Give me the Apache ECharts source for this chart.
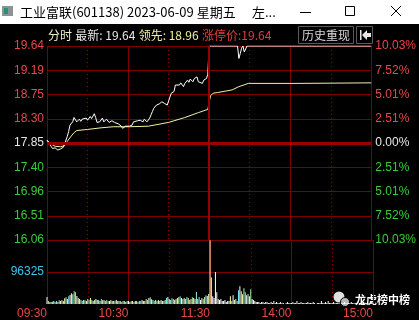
<!DOCTYPE html>
<html><head><meta charset="utf-8">
<script src="https://cdn.jsdelivr.net/npm/echarts@6/dist/echarts.min.js"></script>
<style>html,body{margin:0;padding:0;background:#000;}#c{width:419px;height:320px;}</style>
</head><body><div id="c"></div><script>
// ---------------- data ----------------
const stockTitle = '工业富联(601138) 2023-06-09 星期五';
const prevClose = 17.85;
const limitUp = 19.64;
// tick labels, bottom -> top
const priceTicks = ['16.06','16.51','16.96','17.40','17.85','18.30','18.75','19.19','19.64'];
const pctTicks = ['10.03%','7.52%','5.01%','2.51%','0.00%','2.51%','5.01%','7.52%','10.03%'];
const timeLabels = ['09:30','10:30','11:30','14:00','15:00'];
const volTicks = ['', '96325', ''];
const volMax = 192650;

// minute index (0 = 09:30, 120 = 11:30/13:00, 240 = 15:00)
const priceMinutes = [0,3,4,6,8,10,12,13,15,16,17,19,20,22,24,25,26,27,29,30,31,32,33,35,36,37,39,41,42,44,46,48,50,51,53,55,56,58,59,61,63,64,65,67,68,69,71,72,74,76,77,78,79,80,81,83,85,87,89,90,91,92,94,95,96,98,99,101,102,104,105,106,108,109,111,112,113,115,116,118,119,120,141,142,143,144,145,146,148,240];
const prices = [17.90,17.79,17.75,17.76,17.72,17.74,17.77,17.83,17.97,18.06,18.18,18.24,18.32,18.24,18.29,18.25,18.29,18.26,18.31,18.27,18.28,18.34,18.30,18.39,18.32,18.23,18.24,18.31,18.24,18.29,18.23,18.26,18.23,18.24,18.20,18.16,18.12,18.16,18.14,18.16,18.18,18.24,18.22,18.26,18.23,18.27,18.24,18.29,18.24,18.31,18.37,18.43,18.49,18.47,18.55,18.57,18.61,18.58,18.55,18.58,18.70,18.77,18.80,18.92,18.95,18.92,18.96,18.89,18.95,19.01,18.97,19.03,18.98,19.04,19.07,18.98,19.00,18.95,19.01,19.04,19.12,19.64,19.64,19.41,19.50,19.60,19.64,19.53,19.64,19.64];
const avgMinutes = [0,3,6,10,13,15,18,20,22,30,40,49,61,75,90,102,112,119,120,121,123,126,137,142,149,185,186,240];
const avgPrices = [17.90,17.83,17.79,17.78,17.80,17.88,17.98,18.04,18.08,18.10,18.13,18.15,18.15,18.16,18.23,18.32,18.41,18.47,18.60,18.72,18.77,18.78,18.83,18.89,18.95,18.95,18.96,18.96];
// per-minute volume, 241 values
const volumes = [
20700,8900,6200,5800,6500,9200,6000,8700,6300,11500,
8800,12100,9000,17500,20600,14800,23700,26800,32600,29500,
38500,35600,23800,17800,14900,11800,9100,12200,11600,8900,
14800,12000,17900,11900,9200,12100,14700,11800,12300,8800,
14900,11600,12400,9100,11900,8700,9400,12000,8800,9300,
8700,12100,9000,8800,9300,6100,8900,9400,6300,8800,
9100,6000,8900,9200,5900,8800,9400,6100,9000,8700,
12000,8900,9300,14800,11900,17800,20500,14600,12000,8900,
11800,9100,12200,8800,11700,9200,8900,12300,17700,20900,
14900,11800,17600,15000,12100,14700,17900,20800,23600,17700,
14800,17900,15100,20700,17800,12000,14900,20600,17700,14800,
36200,14900,20800,11900,17800,14800,20700,26600,23900,29800,
192000,
80000,23700,17800,96325,35500,14800,11900,14700,8900,9100,
11800,5900,8800,9200,23600,8900,26700,11900,14800,8800,
41500,53400,38500,29600,47400,35600,26700,29800,23700,44500,
14800,11900,8900,5900,6100,5800,3000,6000,5900,3100,
5900,6100,2900,3000,6000,3100,8900,3000,5800,2900,
3100,6000,2900,3000,0,3100,5900,2900,3000,3100,
6000,2900,3000,8800,3100,2900,5900,3000,2900,3100,
2900,6100,3000,2900,3000,5900,3100,0,3000,2900,
3100,8900,3000,2900,6100,3000,8800,2900,3000,3100,
5800,2900,3000,3100,2900,0,3000,3100,5900,2900,
3000,3100,2900,6000,3000,2900,3100,3000,0,2900,
3100,3000,5800,2900,3000,3100,2900,3000,6000,3100
];

// ---------------- chart ----------------
const step = (limitUp - prevClose) / 4;
const GRID = '#7c0000';
const RED = '#e84848', GREEN = '#3ccc3c', WHITE = '#e6e6e6', CYAN = '#3ec4ee';
const NUMFONT = 'Liberation Sans, Arial, sans-serif';
const CJK = 'Noto Sans CJK SC, sans-serif';
const tickIdx = v => Math.round(v / step) + 4;
const colorTag = i => i > 4 ? 'r' : (i < 4 ? 'g' : 'w');
const richLab = { r:{color:RED,fontSize:12,fontFamily:NUMFONT}, g:{color:GREEN,fontSize:12,fontFamily:NUMFONT}, w:{color:WHITE,fontSize:12,fontFamily:NUMFONT} };

const volPalette = ['#ffffb4','#b4f0a0','#78e8f4','#ffffff','#e8f8a8','#9cf0d8'];
const volColor = i => {
  if (i === 0 || i >= 151) return '#ffffff';
  if (i === 120) return '#fffac8';
  if (i === 121) return '#ffffa0';
  if (i >= 122 && i <= 134) return '#ffffff';
  return volPalette[(i * 7 + (i >> 2)) % volPalette.length];
};

const priceData = priceMinutes.map((m, i) => [m, +(prices[i] - prevClose).toFixed(4)]);
const avgData = avgMinutes.map((m, i) => [m, +(avgPrices[i] - prevClose).toFixed(4)]);
const volData = volumes.map((v, i) => ({ value: [i, v], itemStyle: { color: volColor(i) } }));

const xBase = (gi, interval, dotted, labels) => ({
  type: 'value', gridIndex: gi, min: 0, max: 240, interval: interval,
  axisLine: { show: false }, axisTick: { show: false },
  axisLabel: labels ? {
    show: true, margin: 4, color: RED, fontSize: 12, fontFamily: NUMFONT, align: 'right',
    showMinLabel: true, showMaxLabel: true,
    formatter: v => timeLabels[Math.round(v / 60)] || ''
  } : { show: false },
  splitLine: { show: true, lineStyle: { color: GRID, width: 1, type: dotted ? [1, 3] : 'solid' } }
});

const sepLine = (extra) => ({ silent: true, symbol: 'none', label: { show: false }, data: extra });

const chart = echarts.init(document.getElementById('c'), null, { renderer: 'canvas' });
chart.setOption({
  backgroundColor: '#000',
  animation: false,
  grid: [
    { left: 47, top: 46, width: 326, height: 194 },
    { left: 47, top: 240, width: 326, height: 65 }
  ],
  xAxis: [
    xBase(0, 60, false, false),
    xBase(0, 30, true, false),
    xBase(1, 60, false, true),
    xBase(1, 30, true, false)
  ],
  yAxis: [
    { type: 'value', gridIndex: 0, position: 'left', min: -4 * step, max: 4 * step, interval: step,
      axisLine: { show: false }, axisTick: { show: false },
      axisLabel: { margin: 3, formatter: v => { const i = tickIdx(v); return '{' + colorTag(i) + '|' + priceTicks[i] + '}'; }, rich: richLab },
      splitLine: { show: true, lineStyle: { color: GRID, width: 1 } } },
    { type: 'value', gridIndex: 0, position: 'right', min: -4 * step, max: 4 * step, interval: step,
      axisLine: { show: false }, axisTick: { show: false },
      axisLabel: { margin: 4, formatter: v => { const i = tickIdx(v); return '{' + colorTag(i) + '|' + pctTicks[i] + '}'; }, rich: richLab },
      splitLine: { show: false } },
    { type: 'value', gridIndex: 1, position: 'left', min: 0, max: volMax, interval: volMax / 2,
      axisLine: { show: false }, axisTick: { show: false },
      axisLabel: { margin: 3, color: CYAN, fontSize: 12, fontFamily: NUMFONT, showMaxLabel: false,
        formatter: v => volTicks[Math.round(v / (volMax / 2))] || '' },
      splitLine: { show: true, showMinLine: false, lineStyle: { color: GRID, width: 1 } } }
  ],
  series: [
    { type: 'line', xAxisIndex: 0, yAxisIndex: 0, data: [[120, 0]], symbol: 'none', z: 1,
      lineStyle: { opacity: 0 },
      markLine: sepLine([
        { yAxis: 0, lineStyle: { color: '#9c0000', width: 3, type: 'solid' } },
        { xAxis: 120, lineStyle: { color: '#960000', width: 2, type: 'solid' } }
      ]) },
    { type: 'line', xAxisIndex: 0, yAxisIndex: 0, data: avgData, symbol: 'none', z: 2,
      lineStyle: { color: '#f4f0a0', width: 1 } },
    { type: 'line', xAxisIndex: 0, yAxisIndex: 0, data: priceData, symbol: 'none', z: 3,
      lineStyle: { color: '#ffffff', width: 1 } },
    { type: 'bar', xAxisIndex: 2, yAxisIndex: 2, data: volData, barWidth: 1, z: 3 }
  ],
  graphic: [
    { type: 'rect', shape: { x: 0, y: 0, width: 419, height: 24 }, style: { fill: '#ffffff' } },
    { type: 'rect', shape: { x: 2, y: 6, width: 11, height: 10 }, style: { fill: '#8a9494' } },
    { type: 'rect', shape: { x: 4, y: 8, width: 4, height: 6 }, style: { fill: '#2f8c78' } },
    { type: 'text', x: 20, y: 12, style: { text: stockTitle, fill: '#000', font: '13px ' + CJK, verticalAlign: 'middle' } },
    { type: 'text', x: 252, y: 12, style: { text: '左...', fill: '#000', font: '13px ' + CJK, verticalAlign: 'middle' } },
    { type: 'line', shape: { x1: 300, y1: 12.5, x2: 311, y2: 12.5 }, style: { stroke: '#000', lineWidth: 1 } },
    { type: 'rect', shape: { x: 345.5, y: 6.5, width: 9, height: 9 }, style: { fill: null, stroke: '#000', lineWidth: 1 } },
    { type: 'line', shape: { x1: 391, y1: 6, x2: 401, y2: 16 }, style: { stroke: '#000', lineWidth: 1 } },
    { type: 'line', shape: { x1: 401, y1: 6, x2: 391, y2: 16 }, style: { stroke: '#000', lineWidth: 1 } },
    { type: 'text', x: 48, y: 35, style: {
        text: '{a|分时} {b|最新: ' + prices[prices.length - 1].toFixed(2) + '} {c|领先: ' + avgPrices[avgPrices.length - 1].toFixed(2) + '} {d|涨停价:' + limitUp.toFixed(2) + '}',
        verticalAlign: 'middle',
        rich: {
          a: { fill: '#f0f0c8', font: '12px ' + CJK },
          b: { fill: '#e8e8e8', font: '12px ' + CJK },
          c: { fill: '#f0f0a0', font: '12px ' + CJK },
          d: { fill: '#e83c3c', font: '12px ' + CJK }
        } } },
    { type: 'rect', shape: { x: 298.5, y: 26.5, width: 55, height: 17 }, style: { fill: '#000', stroke: '#5a5a5a', lineWidth: 1 } },
    { type: 'text', x: 326, y: 35, style: { text: '历史重现', fill: '#d8d8d8', font: '12px ' + CJK, align: 'center', verticalAlign: 'middle' } },
    { type: 'rect', shape: { x: 356.5, y: 26.5, width: 16, height: 17 }, style: { fill: '#000', stroke: '#5a5a5a', lineWidth: 1 } },
    { type: 'rect', shape: { x: 360, y: 30, width: 1.5, height: 10 }, style: { fill: '#e8e8e8' } },
    { type: 'polygon', shape: { points: [[362, 35], [367, 30], [367, 33], [371, 33], [371, 37], [367, 37], [367, 40]] }, style: { fill: '#e8e8e8' } },
    { type: 'circle', shape: { cx: 339, cy: 297, r: 5.5 }, style: { fill: '#e0e0e0' } },
    { type: 'circle', shape: { cx: 345, cy: 302, r: 4.5 }, style: { fill: '#b8b8b8', stroke: '#000', lineWidth: 1 } },
    { type: 'text', x: 355, y: 300, style: { text: '龙虎榜中榜', fill: '#ffffff', font: 'bold 11px ' + CJK, verticalAlign: 'middle' } }
  ]
});
</script></body></html>
